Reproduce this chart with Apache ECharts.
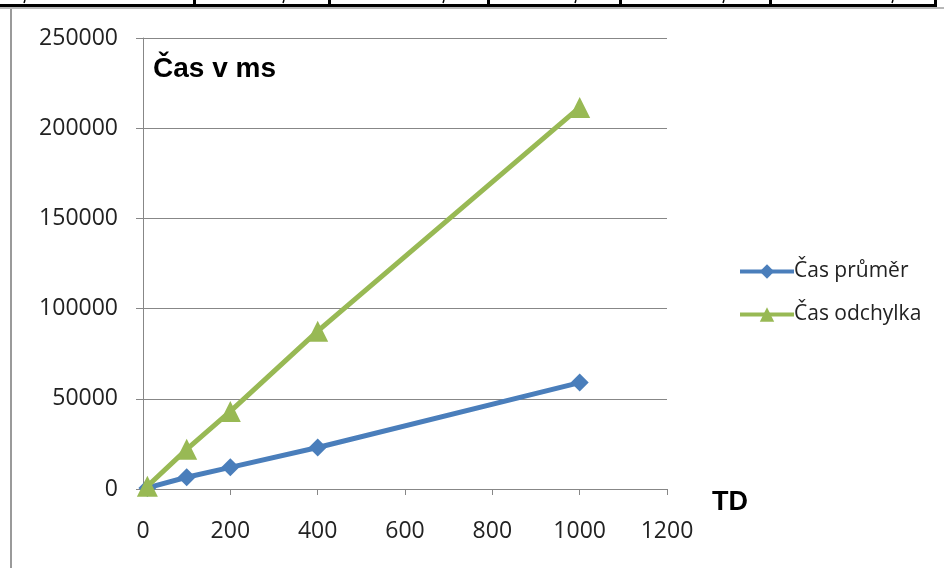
<!DOCTYPE html>
<html>
<head>
<meta charset="utf-8">
<style>
  html, body { margin: 0; padding: 0; background: #ffffff; }
  #chart { width: 944px; height: 568px; }
</style>
<script src="https://cdn.jsdelivr.net/npm/echarts@6/dist/echarts.min.js"></script>
</head>
<body>
<div id="chart"></div>
<script>
// TD values (x) and measured times in ms
const td = [10, 100, 200, 400, 1000];
const casPrumer = [600, 6500, 12000, 23000, 59000];
const casOdchylka = [1500, 22000, 43000, 87500, 211500];

const seriesNames = ['Čas průměr', 'Čas odchylka'];
const xTicks = { min: 0, max: 1200, interval: 200 };
const yTicks = { min: 0, max: 250000, interval: 50000 };

const tickFont = '"Open Sans", "DejaVu Sans", sans-serif';
const boldFont = '"Liberation Sans", Arial, sans-serif';
const gridGray = '#878787';
const blue = '#4a7ebb';
const green = '#98b954';

const chart = echarts.init(document.getElementById('chart'), null, { renderer: 'canvas' });

// table fragment above the chart frame (top edge of a sheet table)
const tableCols = [194, 329, 488, 620, 770, 935];
const commaX = [24, 283, 443, 575, 723, 892];
const graphics = [
  { type: 'rect', shape: { x: 0, y: 4, width: 937, height: 3 }, style: { fill: '#000' } },
  { type: 'rect', shape: { x: 0, y: 7, width: 944, height: 2 }, style: { fill: '#b8b8b8' } },
  { type: 'rect', shape: { x: 10, y: 9, width: 2, height: 559 }, style: { fill: '#9a9a9a' } }
];
tableCols.forEach(function (x) {
  graphics.push({ type: 'rect', shape: { x: x - 1, y: 0, width: 3, height: 5 }, style: { fill: '#000' } });
});
commaX.forEach(function (x) {
  graphics.push({ type: 'line', shape: { x1: x + 1, y1: 0, x2: x, y2: 3 }, style: { stroke: '#000', lineWidth: 1.5 } });
});
graphics.push({
  type: 'text', left: 153, top: 55,
  style: { text: 'Čas v ms', font: 'bold 28px ' + boldFont, fill: '#000' }
});
graphics.push({
  type: 'text', left: 712, top: 489,
  style: { text: 'TD', font: 'bold 27px ' + boldFont, fill: '#000' }
});

chart.setOption({
  animation: false,
  backgroundColor: '#ffffff',
  graphic: graphics,
  grid: { left: 143, top: 38, width: 524, height: 451, containLabel: false },
  legend: {
    orient: 'vertical',
    left: 733,
    top: 256,
    itemWidth: 54,
    itemHeight: 18,
    itemGap: 22,
    data: seriesNames,
    lineStyle: { width: 4 },
    textStyle: { fontFamily: tickFont, fontSize: 21, color: '#222', padding: [0, 0, 0, -5] }
  },
  xAxis: {
    type: 'value',
    min: xTicks.min, max: xTicks.max, interval: xTicks.interval,
    axisLine: { show: true, onZero: false, lineStyle: { color: gridGray, width: 1 } },
    axisTick: { show: true, length: 6, lineStyle: { color: gridGray } },
    axisLabel: { margin: 31, fontFamily: tickFont, fontSize: 23, color: '#222',
      formatter: function (v) { return String(v); } },
    splitLine: { show: false }
  },
  yAxis: {
    type: 'value',
    min: yTicks.min, max: yTicks.max, interval: yTicks.interval,
    axisLine: { show: true, lineStyle: { color: gridGray, width: 1 } },
    axisTick: { show: true, length: 7, lineStyle: { color: gridGray } },
    axisLabel: { margin: 25, fontFamily: tickFont, fontSize: 23, color: '#222',
      formatter: function (v) { return String(v); } },
    splitLine: { show: true, lineStyle: { color: gridGray, width: 1 } }
  },
  series: [
    {
      name: seriesNames[0],
      type: 'line',
      data: td.map(function (x, i) { return [x, casPrumer[i]]; }),
      symbol: 'diamond',
      symbolSize: 18,
      showAllSymbol: true,
      lineStyle: { color: blue, width: 5 },
      itemStyle: { color: blue, borderWidth: 0 },
      z: 3
    },
    {
      name: seriesNames[1],
      type: 'line',
      data: td.map(function (x, i) { return [x, casOdchylka[i]]; }),
      symbol: 'triangle',
      symbolSize: 21,
      showAllSymbol: true,
      lineStyle: { color: green, width: 5 },
      itemStyle: { color: green, borderWidth: 0 },
      z: 4
    }
  ]
});
</script>
</body>
</html>
